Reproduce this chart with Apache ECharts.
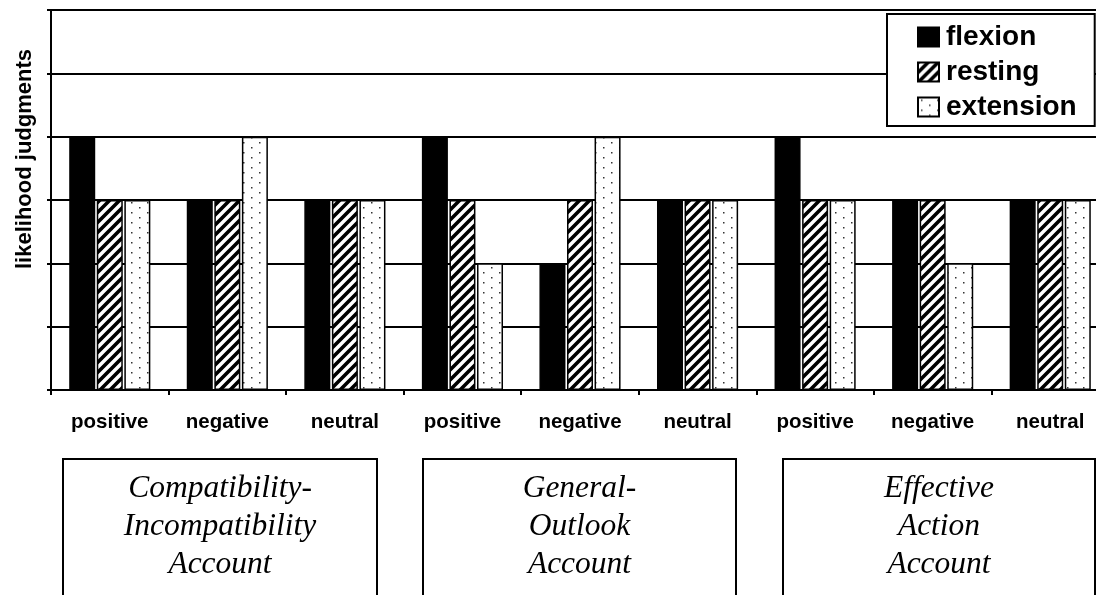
<!DOCTYPE html>
<html>
<head>
<meta charset="utf-8">
<script src="https://cdn.jsdelivr.net/npm/echarts@6/dist/echarts.min.js"></script>
<style>
html,body{margin:0;padding:0;background:#fff;}
#chart{width:1096px;height:595px;}
</style>
</head>
<body>
<div id="chart"></div>
<script>
var categories = ['positive','negative','neutral','positive','negative','neutral','positive','negative','neutral'];
var seriesNames = ['flexion','resting','extension'];
var flexion   = [4,3,3,4,2,3,4,3,3];
var resting   = [3,3,3,3,3,3,3,3,3];
var extension = [3,4,3,2,4,3,3,2,3];
var yTitle = 'likelihood judgments';
var accountLabels = [
  ['Compatibility-','Incompatibility','Account'],
  ['General-','Outlook','Account'],
  ['Effective','Action','Account']
];

function hatchPattern(){
  var s = 10, c = document.createElement('canvas');
  c.width = s; c.height = s;
  var g = c.getContext('2d');
  g.fillStyle = '#fff'; g.fillRect(0,0,s,s);
  g.strokeStyle = '#000'; g.lineWidth = 3.6; g.lineCap = 'square';
  g.beginPath();
  g.moveTo(-s, s); g.lineTo(s, -s);
  g.moveTo(0, s); g.lineTo(s, 0);
  g.moveTo(0, 2*s); g.lineTo(2*s, 0);
  g.stroke();
  return c;
}
function dotPattern(){
  var w = 16, h = 10, c = document.createElement('canvas');
  c.width = w; c.height = h;
  var g = c.getContext('2d');
  g.fillStyle = '#fff'; g.fillRect(0,0,w,h);
  g.fillStyle = '#333';
  g.fillRect(3,2,1.5,1.5);
  g.fillRect(11,7,1.5,1.5);
  return c;
}

var fills = [
  '#000',
  {image: hatchPattern(), repeat: 'repeat'},
  {image: dotPattern(), repeat: 'repeat'}
];
var values = [flexion, resting, extension];

var chart = echarts.init(document.getElementById('chart'), null, {renderer:'canvas'});

var series = seriesNames.map(function(n, i){
  return {
    name: n, type: 'bar', data: values[i],
    barWidth: 26, barGap: '6%',
    itemStyle: {color: fills[i], borderColor: '#000', borderWidth: 1.5}
  };
});

var graphics = [{
  type: 'text', x: 25, y: 159, rotation: Math.PI/2,
  style: {text: yTitle, textAlign: 'center', textVerticalAlign: 'middle',
          font: 'bold 22px "Liberation Sans", Arial, sans-serif', fill: '#000'}
}];
var boxes = [[63,314],[423,313],[783,312]];
boxes.forEach(function(b, k){
  graphics.push({
    type: 'rect', shape: {x: b[0], y: 459, width: b[1], height: 200},
    style: {fill: '#fff', stroke: '#000', lineWidth: 2}
  });
  accountLabels[k].forEach(function(t, j){
    graphics.push({
      type: 'text', x: b[0] + b[1]/2, y: 489 + j*38,
      style: {text: t, textAlign: 'center', textVerticalAlign: 'middle',
              font: 'italic 31.5px "Liberation Serif", "Times New Roman", serif', fill: '#000'}
    });
  });
});

chart.setOption({
  animation: false,
  backgroundColor: '#fff',
  grid: {left: 51, top: 10, right: -13, bottom: 205, containLabel: false, outerBoundsMode: 'none'},
  legend: {
    data: seriesNames, orient: 'vertical', left: 887, top: 14,
    icon: 'rect', itemWidth: 21, itemHeight: 19, itemGap: 7,
    padding: [9, 18, 5, 30],
    backgroundColor: '#fff', borderColor: '#000', borderWidth: 2,
    textStyle: {fontFamily: '"Liberation Sans", Arial, sans-serif', fontWeight: 'bold', fontSize: 28, color: '#000', padding: [0,0,0,2]}
  },
  xAxis: {
    type: 'category', data: categories,
    axisLine: {lineStyle: {color: '#000', width: 2}},
    axisTick: {show: true, length: 5, lineStyle: {color: '#000', width: 2}},
    axisLabel: {margin: 22, color: '#000', fontFamily: '"Liberation Sans", Arial, sans-serif', fontWeight: 'bold', fontSize: 20.5, interval: 0}
  },
  yAxis: {
    type: 'value', min: 0, max: 6, interval: 1,
    axisLine: {show: true, lineStyle: {color: '#000', width: 2}},
    axisTick: {show: true, length: 4, lineStyle: {color: '#000', width: 2}},
    axisLabel: {show: false},
    splitLine: {show: true, lineStyle: {color: '#000', width: 2}}
  },
  graphic: graphics,
  series: series
});
</script>
</body>
</html>
